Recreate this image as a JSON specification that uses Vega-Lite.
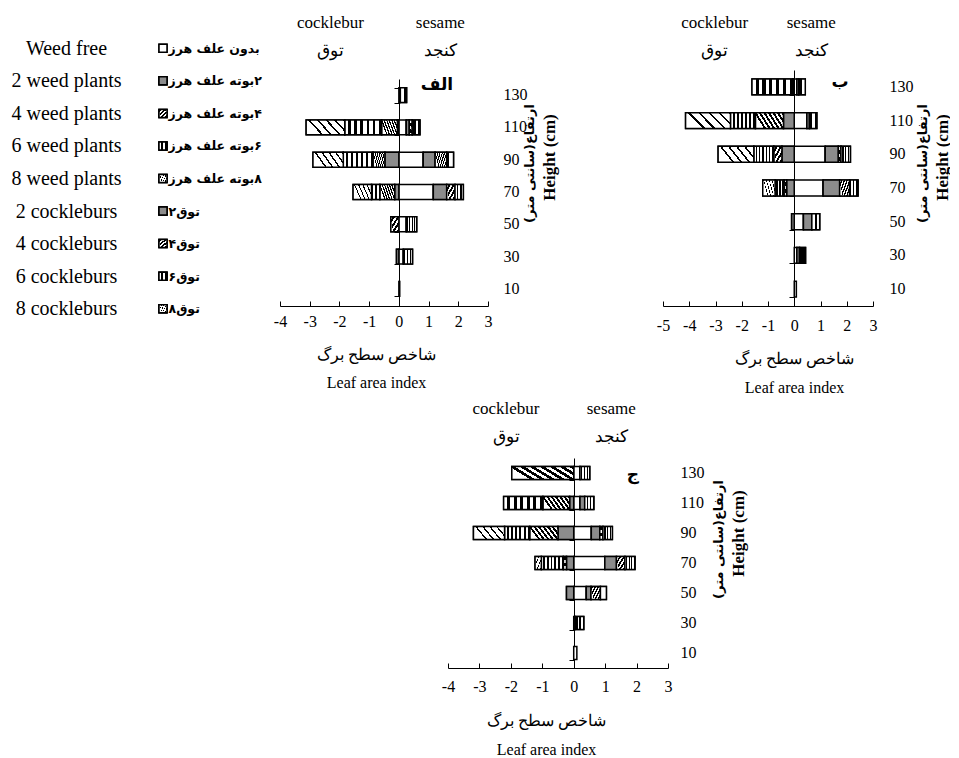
{
  "$schema": "https://vega.github.io/schema/vega-lite/v6.json",
  "background": "white",
  "padding": {"left": 11, "top": 13, "right": 0, "bottom": 0},
  "config": {
    "view": {"stroke": null},
    "font": "Liberation Serif",
    "axis": {"labelColor": "black", "titleColor": "black", "domainColor": "black", "tickColor": "black", "grid": false}
  },
  "datasets": {
    "bars": [
      {"p": "A", "h": "130", "g": "w0", "v": 0.05}, {"p": "A", "h": "130", "g": "w6", "v": 0.21},
      {"p": "A", "h": "110", "g": "c2", "v": -0.05}, {"p": "A", "h": "110", "g": "c4", "v": -0.53}, {"p": "A", "h": "110", "g": "c6", "v": -1.24}, {"p": "A", "h": "110", "g": "c8", "v": -1.3},
      {"p": "A", "h": "110", "g": "w0", "v": 0.25}, {"p": "A", "h": "110", "g": "w2", "v": 0.1}, {"p": "A", "h": "110", "g": "w4", "v": 0.1}, {"p": "A", "h": "110", "g": "w6", "v": 0.26},
      {"p": "A", "h": "90", "g": "c2", "v": -0.47}, {"p": "A", "h": "90", "g": "c4", "v": -0.4}, {"p": "A", "h": "90", "g": "c6", "v": -1.0}, {"p": "A", "h": "90", "g": "c8", "v": -1.02},
      {"p": "A", "h": "90", "g": "w0", "v": 0.82}, {"p": "A", "h": "90", "g": "w2", "v": 0.4}, {"p": "A", "h": "90", "g": "w4", "v": 0.39}, {"p": "A", "h": "90", "g": "w6", "v": 0.23},
      {"p": "A", "h": "70", "g": "c2", "v": -0.14}, {"p": "A", "h": "70", "g": "c4", "v": -0.5}, {"p": "A", "h": "70", "g": "c6", "v": -0.28}, {"p": "A", "h": "70", "g": "c8", "v": -0.62},
      {"p": "A", "h": "70", "g": "w0", "v": 1.16}, {"p": "A", "h": "70", "g": "w2", "v": 0.45}, {"p": "A", "h": "70", "g": "w4", "v": 0.28}, {"p": "A", "h": "70", "g": "w6", "v": 0.28},
      {"p": "A", "h": "50", "g": "c4", "v": -0.27}, {"p": "A", "h": "50", "g": "w0", "v": 0.25}, {"p": "A", "h": "50", "g": "w6", "v": 0.35},
      {"p": "A", "h": "30", "g": "c2", "v": -0.08}, {"p": "A", "h": "30", "g": "w0", "v": 0.15}, {"p": "A", "h": "30", "g": "w6", "v": 0.31},
      {"p": "A", "h": "10", "g": "w0", "v": 0.03},

      {"p": "B", "h": "130", "g": "c2", "v": -0.05}, {"p": "B", "h": "130", "g": "c6", "v": -1.56},
      {"p": "B", "h": "130", "g": "w0", "v": 0.1}, {"p": "B", "h": "130", "g": "w2", "v": 0.07}, {"p": "B", "h": "130", "g": "w6", "v": 0.25},
      {"p": "B", "h": "110", "g": "c2", "v": -0.41}, {"p": "B", "h": "110", "g": "c4", "v": -1.07}, {"p": "B", "h": "110", "g": "c6", "v": -0.95}, {"p": "B", "h": "110", "g": "c8", "v": -1.71},
      {"p": "B", "h": "110", "g": "w0", "v": 0.48}, {"p": "B", "h": "110", "g": "w2", "v": 0.1}, {"p": "B", "h": "110", "g": "w6", "v": 0.28},
      {"p": "B", "h": "90", "g": "c2", "v": -0.47}, {"p": "B", "h": "90", "g": "c4", "v": -0.31}, {"p": "B", "h": "90", "g": "c6", "v": -0.76}, {"p": "B", "h": "90", "g": "c8", "v": -1.36},
      {"p": "B", "h": "90", "g": "w0", "v": 1.18}, {"p": "B", "h": "90", "g": "w2", "v": 0.5}, {"p": "B", "h": "90", "g": "w4", "v": 0.1}, {"p": "B", "h": "90", "g": "w6", "v": 0.36},
      {"p": "B", "h": "70", "g": "c2", "v": -0.29}, {"p": "B", "h": "70", "g": "c4", "v": -0.1}, {"p": "B", "h": "70", "g": "c6", "v": -0.34}, {"p": "B", "h": "70", "g": "c8", "v": -0.47},
      {"p": "B", "h": "70", "g": "w0", "v": 1.1}, {"p": "B", "h": "70", "g": "w2", "v": 0.63}, {"p": "B", "h": "70", "g": "w4", "v": 0.38}, {"p": "B", "h": "70", "g": "w6", "v": 0.32},
      {"p": "B", "h": "50", "g": "c2", "v": -0.1}, {"p": "B", "h": "50", "g": "w0", "v": 0.35}, {"p": "B", "h": "50", "g": "w2", "v": 0.32}, {"p": "B", "h": "50", "g": "w6", "v": 0.3},
      {"p": "B", "h": "30", "g": "w0", "v": 0.1}, {"p": "B", "h": "30", "g": "w2", "v": 0.1}, {"p": "B", "h": "30", "g": "w6", "v": 0.23},
      {"p": "B", "h": "10", "g": "w0", "v": 0.08},

      {"p": "C", "h": "130", "g": "c4", "v": -1.97}, {"p": "C", "h": "130", "g": "w0", "v": 0.2}, {"p": "C", "h": "130", "g": "w6", "v": 0.31},
      {"p": "C", "h": "110", "g": "c2", "v": -0.13}, {"p": "C", "h": "110", "g": "c4", "v": -0.85}, {"p": "C", "h": "110", "g": "c6", "v": -1.25},
      {"p": "C", "h": "110", "g": "w0", "v": 0.2}, {"p": "C", "h": "110", "g": "w2", "v": 0.15}, {"p": "C", "h": "110", "g": "w6", "v": 0.29},
      {"p": "C", "h": "90", "g": "c2", "v": -0.5}, {"p": "C", "h": "90", "g": "c4", "v": -0.9}, {"p": "C", "h": "90", "g": "c6", "v": -0.8}, {"p": "C", "h": "90", "g": "c8", "v": -0.99},
      {"p": "C", "h": "90", "g": "w0", "v": 0.56}, {"p": "C", "h": "90", "g": "w2", "v": 0.27}, {"p": "C", "h": "90", "g": "w4", "v": 0.1}, {"p": "C", "h": "90", "g": "w6", "v": 0.3},
      {"p": "C", "h": "70", "g": "c2", "v": -0.23}, {"p": "C", "h": "70", "g": "c4", "v": -0.1}, {"p": "C", "h": "70", "g": "c6", "v": -0.7}, {"p": "C", "h": "70", "g": "c8", "v": -0.2},
      {"p": "C", "h": "70", "g": "w0", "v": 0.99}, {"p": "C", "h": "70", "g": "w2", "v": 0.37}, {"p": "C", "h": "70", "g": "w4", "v": 0.27}, {"p": "C", "h": "70", "g": "w6", "v": 0.32},
      {"p": "C", "h": "50", "g": "c2", "v": -0.23}, {"p": "C", "h": "50", "g": "w0", "v": 0.4}, {"p": "C", "h": "50", "g": "w2", "v": 0.15}, {"p": "C", "h": "50", "g": "w4", "v": 0.3}, {"p": "C", "h": "50", "g": "w6", "v": 0.19},
      {"p": "C", "h": "30", "g": "w0", "v": 0.05}, {"p": "C", "h": "30", "g": "w6", "v": 0.27},
      {"p": "C", "h": "10", "g": "w0", "v": 0.1}
    ],
    "legend": [
      {"en": "Weed free", "g": "w0"},
      {"en": "2 weed plants", "g": "w2"},
      {"en": "4 weed plants", "g": "w4"},
      {"en": "6 weed plants", "g": "w6"},
      {"en": "8 weed plants", "g": "w8"},
      {"en": "2 cockleburs", "g": "c2"},
      {"en": "4 cockleburs", "g": "c4"},
      {"en": "6 cockleburs", "g": "c6"},
      {"en": "8 cockleburs", "g": "c8"}
    ]
  },
  "bounds": "flush",
  "spacing": 386,
  "vconcat": [
    {
      "bounds": "flush",
      "spacing": 109,
      "hconcat": [
        {
          "width": 16, "height": 293,
          "data": {"name": "legend"},
          "encoding": {
            "x": {"datum": 0, "type": "quantitative", "scale": {"domain": [-1, 1]}, "axis": null},
            "y": {"field": "en", "type": "nominal", "scale": {"domain": ["Weed free", "2 weed plants", "4 weed plants", "6 weed plants", "8 weed plants", "2 cockleburs", "4 cockleburs", "6 cockleburs", "8 cockleburs"]}, "axis": null}
          },
          "layer": [
            {
              "mark": {"type": "square", "size": 64, "filled": true, "fill": "white", "stroke": "black", "strokeWidth": 1.5, "opacity": 1},
              "encoding": {
                "y": {"field": "en", "type": "nominal",
                  "axis": {"orient": "left", "domain": false, "ticks": false, "tickSize": 0, "labelPadding": 89, "labelAlign": "center", "labelBaseline": "middle", "labelFont": "Liberation Serif", "labelFontSize": 20, "title": null}}
              }
            },
            {
              "mark": {"type": "square", "size": 64, "filled": true, "fill": "white", "stroke": "black", "strokeWidth": 1.5, "opacity": 1},
              "encoding": {
                "y": {"field": "en", "type": "nominal",
                  "axis": {"orient": "right", "domain": false, "ticks": false, "tickSize": 0, "labelPadding": -3, "labelAlign": "left", "labelBaseline": "middle", "labelFont": "DejaVu Sans", "labelFontWeight": "bold", "labelFontSize": 12.5, "title": null,
                    "labelExpr": "['\u200fبدون علف هرز','\u200f۲بوته علف هرز','\u200f۴بوته علف هرز','\u200f۶بوته علف هرز','\u200f۸بوته علف هرز','\u200fتوق۲','\u200fتوق۴','\u200fتوق۶','\u200fتوق۸'][indexof(['Weed free','2 weed plants','4 weed plants','6 weed plants','8 weed plants','2 cockleburs','4 cockleburs','6 cockleburs','8 cockleburs'], datum.value)]"}}
              }
            },
            {"transform": [{"filter": "datum.g == 'w2' || datum.g == 'c2'"}], "mark": {"type": "square", "size": 64, "filled": true, "fill": "#8c8c8c", "stroke": "black", "strokeWidth": 1.5, "opacity": 1}},
            {"transform": [{"filter": "datum.g == 'w4' || datum.g == 'c4'"}], "mark": {"type": "square", "size": 64, "filled": true, "stroke": "black", "strokeWidth": 1.5, "opacity": 1,
              "fill": {"gradient":"linear","x1":0,"y1":0.35,"x2":1,"y2":0,"stops":[{"offset":0,"color":"#fff"},{"offset":0.07,"color":"#fff"},{"offset":0.07,"color":"#000"},{"offset":0.1429,"color":"#000"},{"offset":0.1429,"color":"#fff"},{"offset":0.2129,"color":"#fff"},{"offset":0.2129,"color":"#000"},{"offset":0.2857,"color":"#000"},{"offset":0.2857,"color":"#fff"},{"offset":0.3557,"color":"#fff"},{"offset":0.3557,"color":"#000"},{"offset":0.4286,"color":"#000"},{"offset":0.4286,"color":"#fff"},{"offset":0.4986,"color":"#fff"},{"offset":0.4986,"color":"#000"},{"offset":0.5714,"color":"#000"},{"offset":0.5714,"color":"#fff"},{"offset":0.6414,"color":"#fff"},{"offset":0.6414,"color":"#000"},{"offset":0.7143,"color":"#000"},{"offset":0.7143,"color":"#fff"},{"offset":0.7843,"color":"#fff"},{"offset":0.7843,"color":"#000"},{"offset":0.8571,"color":"#000"},{"offset":0.8571,"color":"#fff"},{"offset":0.9271,"color":"#fff"},{"offset":0.9271,"color":"#000"},{"offset":1,"color":"#000"}]}}},
            {"transform": [{"filter": "datum.g == 'w6' || datum.g == 'c6'"}], "mark": {"type": "square", "size": 64, "filled": true, "stroke": "black", "strokeWidth": 1.5, "opacity": 1,
              "fill": {"gradient":"linear","x1":0,"y1":0,"x2":1,"y2":0,"stops":[{"offset":0,"color":"#fff"},{"offset":0.09,"color":"#fff"},{"offset":0.09,"color":"#000"},{"offset":0.1667,"color":"#000"},{"offset":0.1667,"color":"#fff"},{"offset":0.2567,"color":"#fff"},{"offset":0.2567,"color":"#000"},{"offset":0.3333,"color":"#000"},{"offset":0.3333,"color":"#fff"},{"offset":0.4233,"color":"#fff"},{"offset":0.4233,"color":"#000"},{"offset":0.5,"color":"#000"},{"offset":0.5,"color":"#fff"},{"offset":0.59,"color":"#fff"},{"offset":0.59,"color":"#000"},{"offset":0.6667,"color":"#000"},{"offset":0.6667,"color":"#fff"},{"offset":0.7567,"color":"#fff"},{"offset":0.7567,"color":"#000"},{"offset":0.8333,"color":"#000"},{"offset":0.8333,"color":"#fff"},{"offset":0.9233,"color":"#fff"},{"offset":0.9233,"color":"#000"},{"offset":1,"color":"#000"}]}}},
            {"transform": [{"filter": "datum.g == 'w8' || datum.g == 'c8'"}], "mark": {"type": "square", "size": 64, "filled": true, "stroke": "black", "strokeWidth": 1.5, "opacity": 1,
              "fill": {"gradient":"linear","x1":0,"y1":0.35,"x2":1,"y2":0,"stops":[{"offset":0,"color":"#fff"},{"offset":0.15,"color":"#fff"},{"offset":0.15,"color":"#000"},{"offset":0.2,"color":"#000"},{"offset":0.2,"color":"#fff"},{"offset":0.35,"color":"#fff"},{"offset":0.35,"color":"#000"},{"offset":0.4,"color":"#000"},{"offset":0.4,"color":"#fff"},{"offset":0.55,"color":"#fff"},{"offset":0.55,"color":"#000"},{"offset":0.6,"color":"#000"},{"offset":0.6,"color":"#fff"},{"offset":0.75,"color":"#fff"},{"offset":0.75,"color":"#000"},{"offset":0.8,"color":"#000"},{"offset":0.8,"color":"#fff"},{"offset":0.95,"color":"#fff"},{"offset":0.95,"color":"#000"},{"offset":1,"color":"#000"}]}}}
          ],
          "resolve": {"axis": {"y": "independent"}}
        },
        {
          "width": 274, "height": 274,
          "layer": [
            {
              "data": {"name": "bars"},
              "transform": [
                {"filter": "datum.p == 'A'"},
                {"stack": "v", "groupby": ["h"], "sort": [{"field": "g", "order": "ascending"}], "as": ["x0", "x1"], "offset": "zero"}
              ],
              "encoding": {
                "x": {"field": "x0", "type": "quantitative",
                  "scale": {"domain": [-4, 3], "range": [0, 208], "nice": false, "zero": false},
                  "axis": {"orient": "bottom", "values": [-4, -3, -2, -1, 0, 1, 2, 3], "labelExpr": "datum.value + ''", "tickSize": -5, "labelPadding": 12, "labelFlush": false, "labelOverlap": false, "labelFont": "Liberation Serif", "labelFontSize": 16,
                    "title": ["شاخص سطح برگ", "Leaf area index"], "titleX": 96, "titleY": 40, "titleBaseline": "top", "titleAlign": "center", "titleFont": "Liberation Serif", "titleFontSize": 16, "titleFontWeight": "normal", "titleLineHeight": 28}},
                "x2": {"field": "x1"},
                "y": {"field": "h", "type": "nominal",
                  "scale": {"domain": ["130", "110", "90", "70", "50", "30", "10"], "range": [47, 273], "paddingInner": 0.54},
                  "axis": {"orient": "right", "domain": false, "ticks": false, "tickSize": 0, "labelPadding": -51, "labelAlign": "left", "labelBaseline": "middle", "labelFont": "Liberation Serif", "labelFontSize": 16,
                    "title": "Height (cm)", "titleAngle": 270, "titleX": -5, "titleY": 125, "titleBaseline": "middle", "titleAlign": "center", "titleFont": "Liberation Serif", "titleFontSize": 17, "titleFontWeight": "bold"}}
              },
              "layer": [
                {"mark": {"type": "bar", "fill": "white", "stroke": "black", "strokeWidth": 1.5}},
                {"transform": [{"filter": "datum.g == 'w2' || datum.g == 'c2'"}], "mark": {"type": "bar", "fill": "#8c8c8c", "stroke": "black", "strokeWidth": 1.5}},
                {"transform": [{"filter": "datum.g == 'w4' || datum.g == 'c4'"}], "mark": {"type": "bar", "stroke": "black", "strokeWidth": 1.5,
                  "fill": {"gradient":"linear","x1":0,"y1":0.35,"x2":1,"y2":0,"stops":[{"offset":0,"color":"#fff"},{"offset":0.07,"color":"#fff"},{"offset":0.07,"color":"#000"},{"offset":0.1429,"color":"#000"},{"offset":0.1429,"color":"#fff"},{"offset":0.2129,"color":"#fff"},{"offset":0.2129,"color":"#000"},{"offset":0.2857,"color":"#000"},{"offset":0.2857,"color":"#fff"},{"offset":0.3557,"color":"#fff"},{"offset":0.3557,"color":"#000"},{"offset":0.4286,"color":"#000"},{"offset":0.4286,"color":"#fff"},{"offset":0.4986,"color":"#fff"},{"offset":0.4986,"color":"#000"},{"offset":0.5714,"color":"#000"},{"offset":0.5714,"color":"#fff"},{"offset":0.6414,"color":"#fff"},{"offset":0.6414,"color":"#000"},{"offset":0.7143,"color":"#000"},{"offset":0.7143,"color":"#fff"},{"offset":0.7843,"color":"#fff"},{"offset":0.7843,"color":"#000"},{"offset":0.8571,"color":"#000"},{"offset":0.8571,"color":"#fff"},{"offset":0.9271,"color":"#fff"},{"offset":0.9271,"color":"#000"},{"offset":1,"color":"#000"}]}}},
                {"transform": [{"filter": "datum.g == 'w6' || datum.g == 'c6'"}], "mark": {"type": "bar", "stroke": "black", "strokeWidth": 1.5,
                  "fill": {"gradient":"linear","x1":0,"y1":0,"x2":1,"y2":0,"stops":[{"offset":0,"color":"#fff"},{"offset":0.09,"color":"#fff"},{"offset":0.09,"color":"#000"},{"offset":0.1667,"color":"#000"},{"offset":0.1667,"color":"#fff"},{"offset":0.2567,"color":"#fff"},{"offset":0.2567,"color":"#000"},{"offset":0.3333,"color":"#000"},{"offset":0.3333,"color":"#fff"},{"offset":0.4233,"color":"#fff"},{"offset":0.4233,"color":"#000"},{"offset":0.5,"color":"#000"},{"offset":0.5,"color":"#fff"},{"offset":0.59,"color":"#fff"},{"offset":0.59,"color":"#000"},{"offset":0.6667,"color":"#000"},{"offset":0.6667,"color":"#fff"},{"offset":0.7567,"color":"#fff"},{"offset":0.7567,"color":"#000"},{"offset":0.8333,"color":"#000"},{"offset":0.8333,"color":"#fff"},{"offset":0.9233,"color":"#fff"},{"offset":0.9233,"color":"#000"},{"offset":1,"color":"#000"}]}}},
                {"transform": [{"filter": "datum.g == 'w8' || datum.g == 'c8'"}], "mark": {"type": "bar", "stroke": "black", "strokeWidth": 1.5,
                  "fill": {"gradient":"linear","x1":0,"y1":0.35,"x2":1,"y2":0,"stops":[{"offset":0,"color":"#fff"},{"offset":0.15,"color":"#fff"},{"offset":0.15,"color":"#000"},{"offset":0.2,"color":"#000"},{"offset":0.2,"color":"#fff"},{"offset":0.35,"color":"#fff"},{"offset":0.35,"color":"#000"},{"offset":0.4,"color":"#000"},{"offset":0.4,"color":"#fff"},{"offset":0.55,"color":"#fff"},{"offset":0.55,"color":"#000"},{"offset":0.6,"color":"#000"},{"offset":0.6,"color":"#fff"},{"offset":0.75,"color":"#fff"},{"offset":0.75,"color":"#000"},{"offset":0.8,"color":"#000"},{"offset":0.8,"color":"#fff"},{"offset":0.95,"color":"#fff"},{"offset":0.95,"color":"#000"},{"offset":1,"color":"#000"}]}}}
              ]
            },
            {
              "data": {"values": [{"t": "الف"}]},
              "mark": {"type": "text", "font": "DejaVu Sans", "fontWeight": "bold", "fontSize": 17, "dy": -10, "color": "black"},
              "encoding": {
                "text": {"field": "t"},
                "x": {"datum": 1.28, "type": "quantitative",
                  "axis": {"orient": "top", "values": [-2.32, 1.38], "labelExpr": "datum.value < 0 ? ['cocklebur', 'توق'] : ['sesame', 'کنجد']", "domain": false, "ticks": false, "tickSize": 0, "labelPadding": 18, "labelBaseline": "top", "labelLineHeight": 28, "labelFont": "Liberation Serif", "labelFontSize": 17, "labelOverlap": false, "labelFlush": false, "title": null}},
                "y": {"datum": "130", "type": "nominal",
                  "axis": {"orient": "left", "offset": -119, "labels": false, "tickSize": 5, "tickBand": "extent", "title": null}}
              }
            },
            {
              "data": {"values": [{"t": ""}]},
              "mark": {"type": "text"},
              "encoding": {
                "text": {"field": "t"},
                "x": {"datum": 0, "type": "quantitative", "axis": null},
                "y": {"datum": "130", "type": "nominal",
                  "axis": {"orient": "right", "domain": false, "ticks": false, "labels": false, "tickSize": 0, "title": "ارتفاع(سانتی متر)", "titleAngle": 270, "titleX": -25, "titleY": 131, "titleBaseline": "middle", "titleAlign": "center", "titleFont": "DejaVu Sans", "titleFontSize": 13, "titleFontWeight": "bold"}}
              }
            }
          ],
          "resolve": {"axis": {"x": "independent", "y": "independent"}}
        },
        {
          "width": 210, "height": 274,
          "layer": [
            {
              "data": {"name": "bars"},
              "transform": [
                {"filter": "datum.p == 'B'"},
                {"stack": "v", "groupby": ["h"], "sort": [{"field": "g", "order": "ascending"}], "as": ["x0", "x1"], "offset": "zero"}
              ],
              "encoding": {
                "x": {"field": "x0", "type": "quantitative",
                  "scale": {"domain": [-5, 3], "nice": false, "zero": false},
                  "axis": {"orient": "bottom", "values": [-5, -4, -3, -2, -1, 0, 1, 2, 3], "labelExpr": "datum.value + ''", "tickSize": -5, "labelPadding": 16, "labelFlush": false, "labelOverlap": false, "labelFont": "Liberation Serif", "labelFontSize": 16,
                    "title": ["شاخص سطح برگ", "Leaf area index"], "titleX": 131, "titleY": 44, "titleBaseline": "top", "titleAlign": "center", "titleFont": "Liberation Serif", "titleFontSize": 16, "titleFontWeight": "normal", "titleLineHeight": 29}},
                "x2": {"field": "x1"},
                "y": {"field": "h", "type": "nominal",
                  "scale": {"domain": ["130", "110", "90", "70", "50", "30", "10"], "range": [38, 274], "paddingInner": 0.53},
                  "axis": {"orient": "right", "domain": false, "ticks": false, "tickSize": 0, "labelPadding": 16, "labelAlign": "left", "labelBaseline": "middle", "labelFont": "Liberation Serif", "labelFontSize": 16,
                    "title": "Height (cm)", "titleAngle": 270, "titleX": 69, "titleY": 125, "titleBaseline": "middle", "titleAlign": "center", "titleFont": "Liberation Serif", "titleFontSize": 17, "titleFontWeight": "bold"}}
              },
              "layer": [
                {"mark": {"type": "bar", "fill": "white", "stroke": "black", "strokeWidth": 1.5}},
                {"transform": [{"filter": "datum.g == 'w2' || datum.g == 'c2'"}], "mark": {"type": "bar", "fill": "#8c8c8c", "stroke": "black", "strokeWidth": 1.5}},
                {"transform": [{"filter": "datum.g == 'w4' || datum.g == 'c4'"}], "mark": {"type": "bar", "stroke": "black", "strokeWidth": 1.5,
                  "fill": {"gradient":"linear","x1":0,"y1":0.35,"x2":1,"y2":0,"stops":[{"offset":0,"color":"#fff"},{"offset":0.07,"color":"#fff"},{"offset":0.07,"color":"#000"},{"offset":0.1429,"color":"#000"},{"offset":0.1429,"color":"#fff"},{"offset":0.2129,"color":"#fff"},{"offset":0.2129,"color":"#000"},{"offset":0.2857,"color":"#000"},{"offset":0.2857,"color":"#fff"},{"offset":0.3557,"color":"#fff"},{"offset":0.3557,"color":"#000"},{"offset":0.4286,"color":"#000"},{"offset":0.4286,"color":"#fff"},{"offset":0.4986,"color":"#fff"},{"offset":0.4986,"color":"#000"},{"offset":0.5714,"color":"#000"},{"offset":0.5714,"color":"#fff"},{"offset":0.6414,"color":"#fff"},{"offset":0.6414,"color":"#000"},{"offset":0.7143,"color":"#000"},{"offset":0.7143,"color":"#fff"},{"offset":0.7843,"color":"#fff"},{"offset":0.7843,"color":"#000"},{"offset":0.8571,"color":"#000"},{"offset":0.8571,"color":"#fff"},{"offset":0.9271,"color":"#fff"},{"offset":0.9271,"color":"#000"},{"offset":1,"color":"#000"}]}}},
                {"transform": [{"filter": "datum.g == 'w6' || datum.g == 'c6'"}], "mark": {"type": "bar", "stroke": "black", "strokeWidth": 1.5,
                  "fill": {"gradient":"linear","x1":0,"y1":0,"x2":1,"y2":0,"stops":[{"offset":0,"color":"#fff"},{"offset":0.09,"color":"#fff"},{"offset":0.09,"color":"#000"},{"offset":0.1667,"color":"#000"},{"offset":0.1667,"color":"#fff"},{"offset":0.2567,"color":"#fff"},{"offset":0.2567,"color":"#000"},{"offset":0.3333,"color":"#000"},{"offset":0.3333,"color":"#fff"},{"offset":0.4233,"color":"#fff"},{"offset":0.4233,"color":"#000"},{"offset":0.5,"color":"#000"},{"offset":0.5,"color":"#fff"},{"offset":0.59,"color":"#fff"},{"offset":0.59,"color":"#000"},{"offset":0.6667,"color":"#000"},{"offset":0.6667,"color":"#fff"},{"offset":0.7567,"color":"#fff"},{"offset":0.7567,"color":"#000"},{"offset":0.8333,"color":"#000"},{"offset":0.8333,"color":"#fff"},{"offset":0.9233,"color":"#fff"},{"offset":0.9233,"color":"#000"},{"offset":1,"color":"#000"}]}}},
                {"transform": [{"filter": "datum.g == 'w8' || datum.g == 'c8'"}], "mark": {"type": "bar", "stroke": "black", "strokeWidth": 1.5,
                  "fill": {"gradient":"linear","x1":0,"y1":0.35,"x2":1,"y2":0,"stops":[{"offset":0,"color":"#fff"},{"offset":0.15,"color":"#fff"},{"offset":0.15,"color":"#000"},{"offset":0.2,"color":"#000"},{"offset":0.2,"color":"#fff"},{"offset":0.35,"color":"#fff"},{"offset":0.35,"color":"#000"},{"offset":0.4,"color":"#000"},{"offset":0.4,"color":"#fff"},{"offset":0.55,"color":"#fff"},{"offset":0.55,"color":"#000"},{"offset":0.6,"color":"#000"},{"offset":0.6,"color":"#fff"},{"offset":0.75,"color":"#fff"},{"offset":0.75,"color":"#000"},{"offset":0.8,"color":"#000"},{"offset":0.8,"color":"#fff"},{"offset":0.95,"color":"#fff"},{"offset":0.95,"color":"#000"},{"offset":1,"color":"#000"}]}}}
              ]
            },
            {
              "data": {"values": [{"t": "ب"}]},
              "mark": {"type": "text", "font": "DejaVu Sans", "fontWeight": "bold", "fontSize": 17, "dy": -5, "color": "black"},
              "encoding": {
                "text": {"field": "t"},
                "x": {"datum": 1.74, "type": "quantitative",
                  "axis": {"orient": "top", "values": [-3.05, 0.63], "labelExpr": "datum.value < 0 ? ['cocklebur', 'توق'] : ['sesame', 'کنجد']", "domain": false, "ticks": false, "tickSize": 0, "labelPadding": 18, "labelBaseline": "top", "labelLineHeight": 28, "labelFont": "Liberation Serif", "labelFontSize": 17, "labelOverlap": false, "labelFlush": false, "title": null}},
                "y": {"datum": "130", "type": "nominal",
                  "axis": {"orient": "left", "offset": -131, "labels": false, "tickSize": 5, "tickBand": "extent", "title": null}}
              }
            },
            {
              "data": {"values": [{"t": ""}]},
              "mark": {"type": "text"},
              "encoding": {
                "text": {"field": "t"},
                "x": {"datum": 0, "type": "quantitative", "axis": null},
                "y": {"datum": "130", "type": "nominal",
                  "axis": {"orient": "right", "domain": false, "ticks": false, "labels": false, "tickSize": 0, "title": "ارتفاع(سانتی متر)", "titleAngle": 270, "titleX": 49, "titleY": 131, "titleBaseline": "middle", "titleAlign": "center", "titleFont": "DejaVu Sans", "titleFontSize": 13, "titleFontWeight": "bold"}}
              }
            }
          ],
          "resolve": {"axis": {"x": "independent", "y": "independent"}}
        }
      ]
    },
    {
      "width": 513, "height": 250,
      "layer": [
        {
          "data": {"name": "bars"},
          "transform": [
            {"filter": "datum.p == 'C'"},
            {"stack": "v", "groupby": ["h"], "sort": [{"field": "g", "order": "ascending"}], "as": ["x0", "x1"], "offset": "zero"}
          ],
          "encoding": {
            "x": {"field": "x0", "type": "quantitative",
              "scale": {"domain": [-4, 3], "range": [293, 513], "nice": false, "zero": false},
              "axis": {"orient": "bottom", "values": [-4, -3, -2, -1, 0, 1, 2, 3], "labelExpr": "datum.value + ''", "tickSize": -5, "labelPadding": 15, "labelFlush": false, "labelOverlap": false, "labelFont": "Liberation Serif", "labelFontSize": 16,
                "title": ["شاخص سطح برگ", "Leaf area index"], "titleX": 391, "titleY": 44, "titleBaseline": "top", "titleAlign": "center", "titleFont": "Liberation Serif", "titleFontSize": 16, "titleFontWeight": "normal", "titleLineHeight": 29}},
            "x2": {"field": "x1"},
            "y": {"field": "h", "type": "nominal",
              "scale": {"domain": ["130", "110", "90", "70", "50", "30", "10"], "range": [40, 250], "paddingInner": 0.56},
              "axis": {"orient": "right", "domain": false, "ticks": false, "tickSize": 0, "labelPadding": 12, "labelAlign": "left", "labelBaseline": "middle", "labelFont": "Liberation Serif", "labelFontSize": 16,
                "title": "Height (cm)", "titleAngle": 270, "titleX": 70, "titleY": 115, "titleBaseline": "middle", "titleAlign": "center", "titleFont": "Liberation Serif", "titleFontSize": 17, "titleFontWeight": "bold"}}
          },
          "layer": [
            {"mark": {"type": "bar", "fill": "white", "stroke": "black", "strokeWidth": 1.5}},
            {"transform": [{"filter": "datum.g == 'w2' || datum.g == 'c2'"}], "mark": {"type": "bar", "fill": "#8c8c8c", "stroke": "black", "strokeWidth": 1.5}},
            {"transform": [{"filter": "datum.g == 'w4' || datum.g == 'c4'"}], "mark": {"type": "bar", "stroke": "black", "strokeWidth": 1.5,
              "fill": {"gradient":"linear","x1":0,"y1":0.35,"x2":1,"y2":0,"stops":[{"offset":0,"color":"#fff"},{"offset":0.07,"color":"#fff"},{"offset":0.07,"color":"#000"},{"offset":0.1429,"color":"#000"},{"offset":0.1429,"color":"#fff"},{"offset":0.2129,"color":"#fff"},{"offset":0.2129,"color":"#000"},{"offset":0.2857,"color":"#000"},{"offset":0.2857,"color":"#fff"},{"offset":0.3557,"color":"#fff"},{"offset":0.3557,"color":"#000"},{"offset":0.4286,"color":"#000"},{"offset":0.4286,"color":"#fff"},{"offset":0.4986,"color":"#fff"},{"offset":0.4986,"color":"#000"},{"offset":0.5714,"color":"#000"},{"offset":0.5714,"color":"#fff"},{"offset":0.6414,"color":"#fff"},{"offset":0.6414,"color":"#000"},{"offset":0.7143,"color":"#000"},{"offset":0.7143,"color":"#fff"},{"offset":0.7843,"color":"#fff"},{"offset":0.7843,"color":"#000"},{"offset":0.8571,"color":"#000"},{"offset":0.8571,"color":"#fff"},{"offset":0.9271,"color":"#fff"},{"offset":0.9271,"color":"#000"},{"offset":1,"color":"#000"}]}}},
            {"transform": [{"filter": "datum.g == 'w6' || datum.g == 'c6'"}], "mark": {"type": "bar", "stroke": "black", "strokeWidth": 1.5,
              "fill": {"gradient":"linear","x1":0,"y1":0,"x2":1,"y2":0,"stops":[{"offset":0,"color":"#fff"},{"offset":0.09,"color":"#fff"},{"offset":0.09,"color":"#000"},{"offset":0.1667,"color":"#000"},{"offset":0.1667,"color":"#fff"},{"offset":0.2567,"color":"#fff"},{"offset":0.2567,"color":"#000"},{"offset":0.3333,"color":"#000"},{"offset":0.3333,"color":"#fff"},{"offset":0.4233,"color":"#fff"},{"offset":0.4233,"color":"#000"},{"offset":0.5,"color":"#000"},{"offset":0.5,"color":"#fff"},{"offset":0.59,"color":"#fff"},{"offset":0.59,"color":"#000"},{"offset":0.6667,"color":"#000"},{"offset":0.6667,"color":"#fff"},{"offset":0.7567,"color":"#fff"},{"offset":0.7567,"color":"#000"},{"offset":0.8333,"color":"#000"},{"offset":0.8333,"color":"#fff"},{"offset":0.9233,"color":"#fff"},{"offset":0.9233,"color":"#000"},{"offset":1,"color":"#000"}]}}},
            {"transform": [{"filter": "datum.g == 'w8' || datum.g == 'c8'"}], "mark": {"type": "bar", "stroke": "black", "strokeWidth": 1.5,
              "fill": {"gradient":"linear","x1":0,"y1":0.35,"x2":1,"y2":0,"stops":[{"offset":0,"color":"#fff"},{"offset":0.15,"color":"#fff"},{"offset":0.15,"color":"#000"},{"offset":0.2,"color":"#000"},{"offset":0.2,"color":"#fff"},{"offset":0.35,"color":"#fff"},{"offset":0.35,"color":"#000"},{"offset":0.4,"color":"#000"},{"offset":0.4,"color":"#fff"},{"offset":0.55,"color":"#fff"},{"offset":0.55,"color":"#000"},{"offset":0.6,"color":"#000"},{"offset":0.6,"color":"#fff"},{"offset":0.75,"color":"#fff"},{"offset":0.75,"color":"#000"},{"offset":0.8,"color":"#000"},{"offset":0.8,"color":"#fff"},{"offset":0.95,"color":"#fff"},{"offset":0.95,"color":"#000"},{"offset":1,"color":"#000"}]}}}
          ]
        },
        {
          "data": {"values": [{"t": "ج"}]},
          "mark": {"type": "text", "font": "DejaVu Sans", "fontWeight": "bold", "fontSize": 17, "dy": 2, "color": "black"},
          "encoding": {
            "text": {"field": "t"},
            "x": {"datum": 1.88, "type": "quantitative",
              "axis": {"orient": "top", "values": [-2.17, 1.18], "labelExpr": "datum.value < 0 ? ['cocklebur', 'توق'] : ['sesame', 'کنجد']", "domain": false, "ticks": false, "tickSize": 0, "labelPadding": 18, "labelBaseline": "top", "labelLineHeight": 28, "labelFont": "Liberation Serif", "labelFontSize": 17, "labelOverlap": false, "labelFlush": false, "title": null}},
            "y": {"datum": "130", "type": "nominal",
              "axis": {"orient": "left", "offset": -419, "labels": false, "tickSize": 5, "tickBand": "extent", "title": null}}
          }
        },
        {
          "data": {"values": [{"t": ""}]},
          "mark": {"type": "text"},
          "encoding": {
            "text": {"field": "t"},
            "x": {"datum": 0, "type": "quantitative", "axis": null},
            "y": {"datum": "130", "type": "nominal",
              "axis": {"orient": "right", "domain": false, "ticks": false, "labels": false, "tickSize": 0, "title": "ارتفاع(سانتی متر)", "titleAngle": 270, "titleX": 50, "titleY": 121, "titleBaseline": "middle", "titleAlign": "center", "titleFont": "DejaVu Sans", "titleFontSize": 13, "titleFontWeight": "bold"}}
          }
        }
      ],
      "resolve": {"axis": {"x": "independent", "y": "independent"}}
    }
  ]
}
